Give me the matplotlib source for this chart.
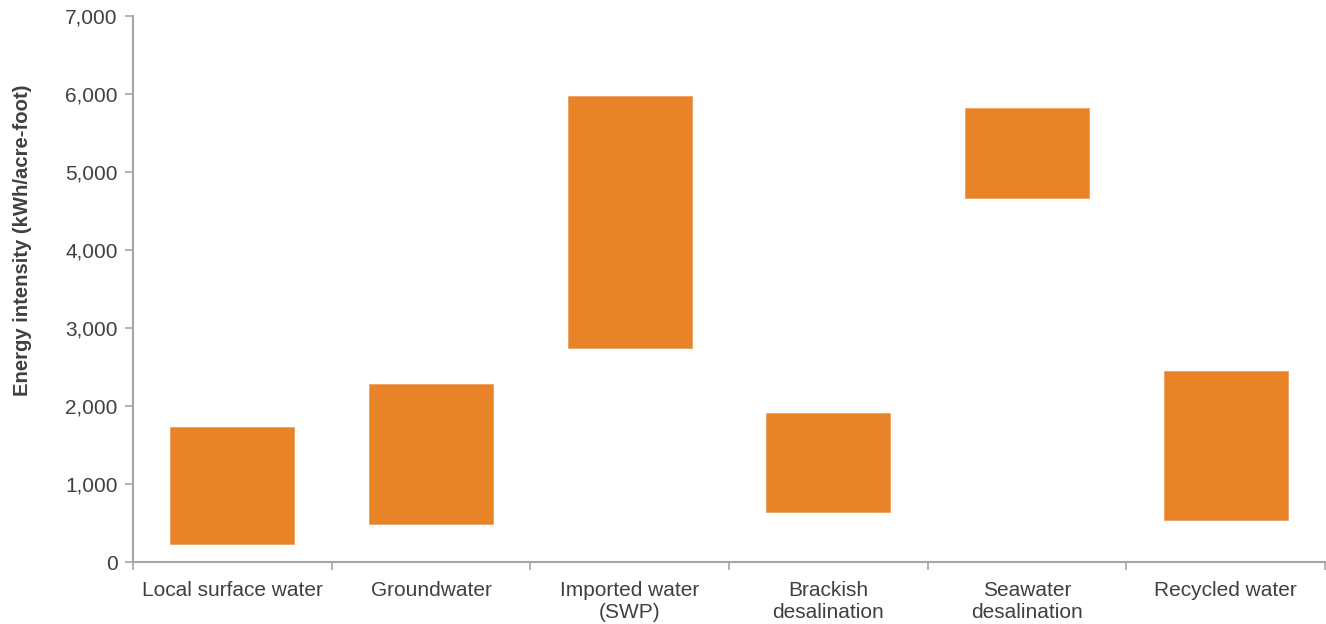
import numpy as np
import matplotlib.pyplot as plt
from matplotlib.ticker import FuncFormatter

plt.rcParams['font.family'] = ['Liberation Sans', 'DejaVu Sans']

sources = ["Local surface water", "Groundwater", "Imported water\n(SWP)",
           "Brackish\ndesalination", "Seawater\ndesalination", "Recycled water"]
low = [240, 490, 2750, 645, 4670, 540]
high = [1730, 2280, 5970, 1920, 5820, 2450]

orange = "#E88427"
grey = "#A6A6A6"
text_col = "#404040"

fig = plt.figure(figsize=(13.26, 6.24), dpi=100)
ax = fig.add_axes([0.1003, 0.0986, 0.899, 0.8758])

x = np.arange(len(sources))
ax.bar(x, np.array(high) - np.array(low), bottom=low, width=0.625,
       color=orange, edgecolor="#F0A060", linewidth=0.6)

ax.set_xlim(-0.5, len(sources) - 0.5)
ax.set_ylim(0, 7000)
ax.set_yticks(range(0, 7001, 1000))
ax.yaxis.set_major_formatter(FuncFormatter(lambda v, p: f"{int(v):,}"))

ax.set_xticks(x)
ax.set_xticklabels(sources, fontsize=15, color=text_col, va="top",
                   linespacing=1.2)
ax.set_xticks(np.arange(-0.5, len(sources)), minor=True)
ax.tick_params(axis="x", which="major", length=0, pad=13)
ax.tick_params(axis="x", which="minor", length=6, width=1.2, color=grey)
ax.tick_params(axis="y", length=6, width=1.2, color=grey, labelsize=15,
               labelcolor=text_col, pad=5)

for side in ["top", "right"]:
    ax.spines[side].set_visible(False)
for side in ["left", "bottom"]:
    ax.spines[side].set_color(grey)
    ax.spines[side].set_linewidth(1.5)

ax.set_ylabel("Energy intensity (kWh/acre-foot)", fontsize=14.6,
              fontweight="bold", color=text_col)
ax.yaxis.set_label_coords(-0.085, 0.59)

fig.savefig("out.png", dpi=100)
